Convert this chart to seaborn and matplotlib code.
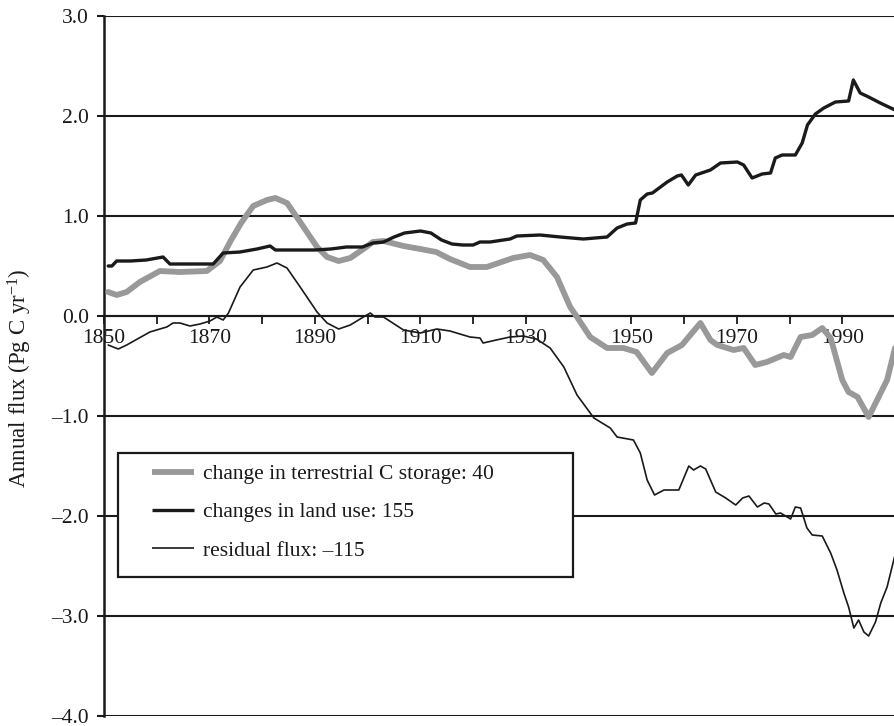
import matplotlib
matplotlib.use("Agg")
import matplotlib.pyplot as plt
from matplotlib.patches import Rectangle
import seaborn as sns
import pandas as pd

# Terrestrial carbon fluxes, 1850-2000 (Pg C per year)
storage_years = [1850.8, 1852.4, 1854.3, 1856.8, 1860.6, 1864.4, 1869.5, 1872, 1874, 1876,
                 1878.3, 1880.9, 1882.5, 1884.7, 1887.2, 1890.4, 1892.3, 1894.5, 1896.7, 1899.2,
                 1901, 1903, 1906.8, 1910, 1913, 1915.6, 1919.4, 1922.6, 1927.6, 1930.8,
                 1933.3, 1935.9, 1938.4, 1939.7, 1942.2, 1945.4, 1948.5, 1951, 1953.9, 1956.8,
                 1959.6, 1963.1, 1965, 1966.3, 1969.4, 1971.3, 1973.5, 1975.7, 1978.9, 1980.2,
                 1982.1, 1984.3, 1986.2, 1987.8, 1990, 1991.2, 1992.9, 1995, 1998.5, 2000]
storage_flux = [0.24, 0.21, 0.24, 0.34, 0.45, 0.44, 0.45, 0.55, 0.75, 0.93,
                1.10, 1.16, 1.18, 1.13, 0.94, 0.69, 0.59, 0.55, 0.58, 0.67,
                0.74, 0.75, 0.70, 0.67, 0.64, 0.57, 0.49, 0.49, 0.58, 0.61,
                0.56, 0.39, 0.09, -0.01, -0.21, -0.32, -0.32, -0.36, -0.57, -0.37,
                -0.29, -0.07, -0.24, -0.29, -0.34, -0.32, -0.49, -0.46, -0.39, -0.41,
                -0.21, -0.19, -0.12, -0.22, -0.64, -0.76, -0.81, -1.01, -0.64, -0.32]

landuse_years = [1850.8, 1851.5, 1852.4, 1855, 1858, 1861.2, 1862.5, 1866, 1870.7, 1872.6,
                 1875.8, 1879, 1881.5, 1882.5, 1886, 1890, 1893, 1896, 1899, 1901,
                 1903, 1905, 1907, 1910, 1912, 1914, 1916, 1918, 1920, 1921.3,
                 1923.2, 1927, 1928.3, 1932.7, 1936.5, 1940.9, 1945.4, 1947.3, 1949.2, 1950.8,
                 1951.7, 1953, 1954, 1956.8, 1958.7, 1959.5, 1960.8, 1962.2, 1965, 1966.9,
                 1970.1, 1971.3, 1972.9, 1974.8, 1976.4, 1977.3, 1978.6, 1981.1, 1982.4, 1983.4,
                 1984.9, 1986.5, 1988.7, 1991.2, 1992.1, 1993.4, 1995, 1997.2, 2000]
landuse_flux = [0.50, 0.50, 0.55, 0.55, 0.56, 0.59, 0.52, 0.52, 0.52, 0.63,
                0.64, 0.67, 0.70, 0.66, 0.66, 0.66, 0.67, 0.69, 0.69, 0.73,
                0.74, 0.79, 0.83, 0.85, 0.83, 0.76, 0.72, 0.71, 0.71, 0.74,
                0.74, 0.77, 0.80, 0.81, 0.79, 0.77, 0.79, 0.88, 0.92, 0.93,
                1.16, 1.22, 1.23, 1.34, 1.40, 1.41, 1.31, 1.41, 1.46, 1.53,
                1.54, 1.51, 1.38, 1.42, 1.43, 1.58, 1.61, 1.61, 1.73, 1.91,
                2.02, 2.08, 2.14, 2.15, 2.36, 2.23, 2.19, 2.13, 2.06]

residual_years = [1850.8, 1852.7, 1854.3, 1858.7, 1860.6, 1861.9, 1863.1, 1864.4, 1866.3, 1868.2,
                  1870.1, 1871.4, 1872.6, 1873.6, 1875.8, 1878.3, 1880.9, 1882.8, 1884.7, 1887.2,
                  1890.4, 1892.3, 1894.5, 1896.7, 1899.2, 1900.5, 1901.4, 1903, 1906.8, 1910,
                  1913.1, 1915.6, 1919.4, 1921.3, 1921.9, 1924.4, 1927, 1929.5, 1932, 1934.6,
                  1937.2, 1939.7, 1942.9, 1946.0, 1947.3, 1950.4, 1951.7, 1953.0, 1954.4, 1956.2,
                  1959, 1960.9, 1961.8, 1963.1, 1964.1, 1966, 1967.9, 1969.8, 1971.1, 1972.3,
                  1973.9, 1975.2, 1976.1, 1977.4, 1978.3, 1980.2, 1981.1, 1982.1, 1983.3, 1984.3,
                  1986.2, 1987.8, 1989.0, 1990.3, 1991.2, 1992.2, 1993.1, 1994.1, 1995, 1996.3,
                  1997.3, 1998.5, 2000]
residual_flux = [-0.29, -0.33, -0.29, -0.16, -0.13, -0.11, -0.07, -0.07, -0.10, -0.08,
                 -0.05, -0.01, -0.04, 0.03, 0.29, 0.46, 0.49, 0.53, 0.48, 0.29,
                 0.04, -0.07, -0.13, -0.09, -0.01, 0.03, -0.01, -0.01, -0.14, -0.17,
                 -0.13, -0.15, -0.21, -0.22, -0.27, -0.24, -0.21, -0.20, -0.23, -0.32,
                 -0.51, -0.79, -1.02, -1.12, -1.21, -1.24, -1.37, -1.64, -1.79, -1.74,
                 -1.74, -1.50, -1.54, -1.50, -1.53, -1.76, -1.82, -1.89, -1.82, -1.80,
                 -1.91, -1.87, -1.88, -1.98, -1.97, -2.03, -1.91, -1.92, -2.12, -2.19,
                 -2.20, -2.37, -2.54, -2.77, -2.91, -3.12, -3.04, -3.16, -3.20, -3.06,
                 -2.87, -2.71, -2.39]

series_labels = ["change in terrestrial C storage: 40",
                 "changes in land use: 155",
                 "residual flux: \u2013115"]
y_ticks = [3.0, 2.0, 1.0, 0.0, -1.0, -2.0, -3.0, -4.0]
x_label_years = list(range(1850, 2000, 20))
x_tick_years = list(range(1850, 2001, 10))
y_title = "Annual flux (Pg C yr$^{-1}$)"

sns.set_theme(style="white")
plt.rcParams["font.family"] = ["Liberation Serif", "DejaVu Serif"]
plt.rcParams["mathtext.fontset"] = "custom"
plt.rcParams["mathtext.rm"] = "Liberation Serif"
plt.rcParams["mathtext.it"] = "Liberation Serif"

fig = plt.figure(figsize=(8.95, 7.26), dpi=100)
ax = fig.add_axes([104 / 895, 10 / 726, 791 / 895, 700 / 726])

ink = "#1a1a1a"
fs = 15.5
for y in y_ticks:
    ax.axhline(y, color=ink, lw=1.5, zorder=1)

storage = pd.DataFrame({"year": storage_years, "flux": storage_flux})
landuse = pd.DataFrame({"year": landuse_years, "flux": landuse_flux})
residual = pd.DataFrame({"year": residual_years, "flux": residual_flux})

sns.lineplot(data=storage, x="year", y="flux", ax=ax, color="#999999", lw=4.2,
             label=series_labels[0], zorder=3, sort=False)
sns.lineplot(data=landuse, x="year", y="flux", ax=ax, color=ink, lw=2.4,
             label=series_labels[1], zorder=4, sort=False)
sns.lineplot(data=residual, x="year", y="flux", ax=ax, color=ink, lw=1.2,
             label=series_labels[2], zorder=5, sort=False)

ax.set_xlim(1850, 2000)
ax.set_ylim(-4.0, 3.0)

for side in ["top", "right"]:
    ax.spines[side].set_visible(False)
ax.spines["bottom"].set_position(("data", 0))
ax.spines["bottom"].set_color(ink)
ax.spines["bottom"].set_linewidth(1.5)
ax.spines["left"].set_color(ink)
ax.spines["left"].set_linewidth(1.8)

ax.set_xticks(x_tick_years)
ax.set_xticklabels([str(y) if y in x_label_years else "" for y in x_tick_years])
ax.set_yticks(y_ticks)
ax.set_yticklabels([f"{y:.1f}".replace("-", "\u2013") for y in y_ticks])
ax.tick_params(axis="x", direction="out", length=5.5, width=1.3, color=ink,
               labelsize=fs, labelcolor=ink, pad=4, bottom=True)
ax.tick_params(axis="y", direction="out", length=5, width=1.5, color=ink,
               labelsize=fs, labelcolor=ink, pad=6, left=True)

ax.set_xlabel("")
ax.set_ylabel(y_title, fontsize=16.5, color=ink)
ax.yaxis.set_label_coords(-0.089, 0.483)

# Legend: square white box with the entries inset from its left edge
box = Rectangle((14 / 791, 139 / 700), 455 / 791, 124 / 700, transform=ax.transAxes,
                facecolor="white", edgecolor=ink, lw=1.6, zorder=9)
ax.add_patch(box)
leg = ax.legend(loc="upper left", bbox_to_anchor=(48 / 791, 252 / 700),
                borderaxespad=0, borderpad=0, frameon=False,
                fontsize=fs, handlelength=1.95, handletextpad=0.42,
                labelspacing=0.85)
leg.set_zorder(10)
for text in leg.get_texts():
    text.set_color(ink)
for line in leg.get_lines():
    line.set_solid_capstyle("butt")

fig.savefig("out.png", dpi=100, facecolor="white")
